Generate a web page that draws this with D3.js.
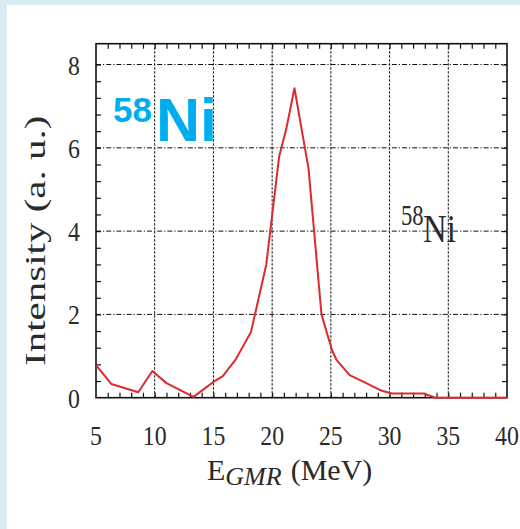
<!DOCTYPE html>
<html>
<head>
<meta charset="utf-8">
<script src="https://cdn.jsdelivr.net/npm/d3@7"></script>
<style>
  html, body { margin: 0; padding: 0; background: #ffffff; }
  svg { display: block; }
</style>
</head>
<body>
<svg id="chart" width="520" height="529"></svg>
<script>
// GMR strength distribution for 58Ni
const energy = [5, 6.3, 8.6, 9.8, 11, 13.3, 14.3, 15.1, 15.8, 16.9, 18.2, 19.5, 20.6, 21.2, 21.9,
                23.1, 24.2, 25.1, 25.5, 26.6, 27.8, 29.2, 30.2, 32.9, 33.9, 40];
const intensity = [0.78, 0.33, 0.13, 0.64, 0.35, 0.02, 0.23, 0.40, 0.52, 0.92, 1.58, 3.2, 5.8, 6.45, 7.43,
                   5.5, 2.0, 1.14, 0.9, 0.54, 0.38, 0.18, 0.10, 0.10, 0.0, 0.0];

const xTickLabels = [5, 10, 15, 20, 25, 30, 35, 40];
const yTickLabels = [0, 2, 4, 6, 8];
const xGridValues = [10, 15, 20, 25, 30, 35];
const yGridValues = [2, 4, 6, 8];
const xMinorTicks = d3.range(6, 40, 1);
const yMinorTicks = d3.range(1, 21).map(i => +(i * 0.4).toFixed(1));

const svg = d3.select("#chart");
const W = 520, H = 529;

// page background with the pale blue edge strips
svg.append("rect").attr("width", W).attr("height", H).attr("fill", "#ffffff");
svg.append("rect").attr("x", 0).attr("y", 0).attr("width", 7).attr("height", H).attr("fill", "#d9ecf3");
svg.append("rect").attr("x", 0).attr("y", 0).attr("width", W).attr("height", 5).attr("fill", "#d9ecf3");

const plotL = 96, plotR = 507, plotT = 43.7, plotB = 397.7;
const x = d3.scaleLinear().domain([5, 40]).range([plotL, plotR]);
const y = d3.scaleLinear().domain([0, 8.5]).range([plotB, plotT]);

// grid
const grid = svg.append("g").attr("stroke", "#111").attr("stroke-width", 1).attr("fill", "none");
grid.selectAll("line.v").data(xGridValues).join("line")
  .attr("class", "v")
  .attr("x1", d => x(d)).attr("x2", d => x(d))
  .attr("y1", plotB).attr("y2", plotT)
  .attr("stroke-dasharray", "2.5,1.5");
grid.selectAll("line.h").data(yGridValues).join("line")
  .attr("class", "h")
  .attr("x1", plotL).attr("x2", plotR)
  .attr("y1", d => y(d)).attr("y2", d => y(d))
  .attr("stroke-dasharray", "5,2,1.2,2");

// inward minor ticks on all four sides
const tickLen = 5;
function styleTicks(g) {
  g.select(".domain").remove();
  g.selectAll(".tick line").attr("stroke", "#111").attr("stroke-width", 1.2);
  g.selectAll(".tick text").remove();
}
svg.append("g").attr("transform", `translate(0,${plotB})`)
  .call(d3.axisBottom(x).tickValues(xMinorTicks).tickSize(-tickLen).tickFormat(""))
  .call(styleTicks);
svg.append("g").attr("transform", `translate(0,${plotT})`)
  .call(d3.axisTop(x).tickValues(xMinorTicks).tickSize(-tickLen).tickFormat(""))
  .call(styleTicks);
svg.append("g").attr("transform", `translate(${plotL},0)`)
  .call(d3.axisLeft(y).tickValues(yMinorTicks).tickSize(-tickLen).tickFormat(""))
  .call(styleTicks);
svg.append("g").attr("transform", `translate(${plotR},0)`)
  .call(d3.axisRight(y).tickValues(yMinorTicks).tickSize(-tickLen).tickFormat(""))
  .call(styleTicks);

// frame
svg.append("rect")
  .attr("x", plotL).attr("y", plotT)
  .attr("width", plotR - plotL).attr("height", plotB - plotT)
  .attr("fill", "none").attr("stroke", "#111").attr("stroke-width", 1.6);

// curve
const line = d3.line().x((d, i) => x(energy[i])).y(d => y(d));
svg.append("path")
  .datum(intensity)
  .attr("d", line)
  .attr("fill", "none")
  .attr("stroke", "#dc2a2e")
  .attr("stroke-width", 2)
  .attr("stroke-linejoin", "round");

const serif = "'Liberation Serif', 'Times New Roman', serif";

// tick labels
svg.append("g").selectAll("text").data(xTickLabels).join("text")
  .attr("transform", d => `translate(${x(d)},445) scale(0.85,1)`)
  .attr("text-anchor", "middle")
  .attr("font-family", serif).attr("font-size", 28).attr("fill", "#2a2a2a")
  .text(d => d);
svg.append("g").selectAll("text").data(yTickLabels).join("text")
  .attr("transform", d => `translate(80,${y(d) + 10}) scale(0.85,1)`)
  .attr("text-anchor", "end")
  .attr("font-family", serif).attr("font-size", 28).attr("fill", "#2a2a2a")
  .text(d => d);

// axis titles
const xt = svg.append("text")
  .attr("x", 207).attr("y", 480)
  .attr("font-family", serif).attr("font-size", 30).attr("fill", "#2a2a2a");
xt.append("tspan").text("E");
xt.append("tspan").attr("font-style", "italic").attr("font-size", 26).attr("dy", 5).text("GMR");
xt.append("tspan").attr("dy", -5).attr("dx", 9).text("(MeV)");

svg.append("text")
  .attr("transform", "translate(45,366) rotate(-90) scale(1,0.72)")
  .attr("font-family", serif).attr("font-size", 41).attr("fill", "#2a2a2a")
  .text("Intensity (a. u.)");

// in-plot labels
const blue = svg.append("text")
  .attr("font-family", "'Liberation Sans', Arial, sans-serif")
  .attr("font-weight", "bold").attr("fill", "#00aeef");
blue.append("tspan").attr("x", 113).attr("y", 122).attr("font-size", 35).text("58");
blue.append("tspan").attr("x", 156).attr("y", 141).attr("font-size", 61).text("Ni");

const tag = svg.append("g").attr("fill", "#2a2a2a").attr("font-family", serif);
tag.append("text")
  .attr("transform", "translate(401,225) scale(0.78,1)")
  .attr("font-size", 29).text("58");
tag.append("text")
  .attr("transform", "translate(423,242) scale(0.8,1)")
  .attr("font-size", 41).text("Ni");
</script>
</body>
</html>
